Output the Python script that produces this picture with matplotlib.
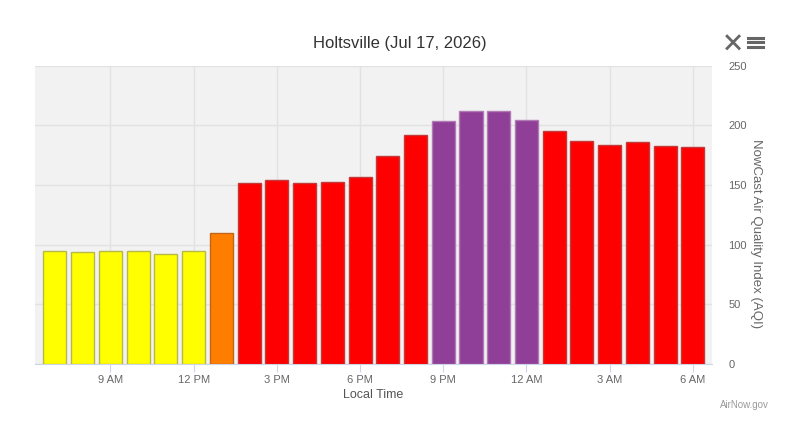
import matplotlib
matplotlib.use("Agg")
from matplotlib import pyplot as plt
from matplotlib.lines import Line2D

plt.rcParams['font.family'] = ['Liberation Sans', 'DejaVu Sans']

# hourly NowCast AQI, 7 AM to 6 AM next day
hours = ['7 AM', '8 AM', '9 AM', '10 AM', '11 AM', '12 PM', '1 PM', '2 PM', '3 PM', '4 PM',
         '5 PM', '6 PM', '7 PM', '8 PM', '9 PM', '10 PM', '11 PM', '12 AM', '1 AM', '2 AM',
         '3 AM', '4 AM', '5 AM', '6 AM']
aqi = [95, 94, 95, 95, 92, 95, 110, 152, 154, 152, 153, 157, 174, 192,
       204, 212, 212, 205, 195, 187, 184, 186, 183, 182]
tick_labels = ['9 AM', '12 PM', '3 PM', '6 PM', '9 PM', '12 AM', '3 AM', '6 AM']


def aqi_color(v):
    if v <= 50:
        return '#00e400', '#00a000'
    if v <= 100:
        return '#ffff00', '#b8b84a'
    if v <= 150:
        return '#ff7e00', '#c0651a'
    if v <= 200:
        return '#ff0000', '#c23a3a'
    return '#8f3f97', '#b07ab5'


fig = plt.figure(figsize=[7.99, 4.36], dpi=100)
ax = fig.add_axes([0.0438, 0.165, 0.847, 0.684])
ax.set_facecolor('#f2f2f2')

x = list(range(len(aqi)))
fills = [aqi_color(v)[0] for v in aqi]
edges = [aqi_color(v)[1] for v in aqi]
ax.bar(x, aqi, width=0.83, color=fills, edgecolor=edges, linewidth=1, zorder=3)

ax.set_xlim(-0.72, 23.68)
ax.set_ylim(0, 250)
ax.set_yticks([0, 50, 100, 150, 200, 250])
ax.yaxis.tick_right()
ax.tick_params(axis='y', length=0, pad=12, labelsize=8, labelcolor='#666666')
for lab in ax.get_yticklabels():
    lab.set_horizontalalignment('left')
ax.set_xticks([hours.index(t) for t in tick_labels])
ax.set_xticklabels(tick_labels)
ax.tick_params(axis='x', length=6, color='#ccd6eb', labelsize=8, labelcolor='#666666', pad=2)

ax.grid(True, color='#e2e2e2', linewidth=1, zorder=0)
for s in ['top', 'left', 'right']:
    ax.spines[s].set_visible(False)
ax.spines['bottom'].set_color('#ccd6eb')

ax.set_xlabel('Local Time', fontsize=9, color='#555555', labelpad=3)
ax.yaxis.set_label_position('right')
ax.set_ylabel('NowCast Air Quality Index (AQI)', fontsize=9.5, color='#666666',
              rotation=-90, va='center')
ax.yaxis.set_label_coords(1.066, 0.436)

fig.text(0.5, 0.9, 'Holtsville (Jul 17, 2026)', ha='center', va='center',
         fontsize=12, color='#333333')
fig.text(0.932, 0.071, 'AirNow.gov', ha='center', va='center', fontsize=7, color='#999999')

# export/close icons in the top corner
fig.add_artist(Line2D([0.910, 0.925], [0.917, 0.889], color='#666666', lw=2))
fig.add_artist(Line2D([0.910, 0.925], [0.889, 0.917], color='#666666', lw=2))
for yy in [0.913, 0.903, 0.893]:
    fig.add_artist(Line2D([0.936, 0.955], [yy, yy], color='#666666', lw=2.2))

fig.savefig('out.png', dpi=100)
